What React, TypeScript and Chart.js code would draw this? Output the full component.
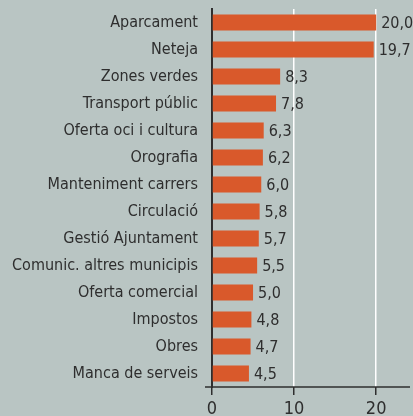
import React, { useEffect, useRef } from 'react';
import { Chart, registerables } from 'chart.js';

Chart.register(...registerables);

const categories = [
  'Aparcament',
  'Neteja',
  'Zones verdes',
  'Transport públic',
  'Oferta oci i cultura',
  'Orografia',
  'Manteniment carrers',
  'Circulació',
  'Gestió Ajuntament',
  'Comunic. altres municipis',
  'Oferta comercial',
  'Impostos',
  'Obres',
  'Manca de serveis',
];
const values = [20.0, 19.7, 8.3, 7.8, 6.3, 6.2, 6.0, 5.8, 5.7, 5.5, 5.0, 4.8, 4.7, 4.5];
const xTicks = [0, 10, 20];

const BG = '#b9c5c3';
const BAR = '#d9592b';
const TEXT = '#2e2e2e';
const FONT = "'DejaVu Sans Condensed', 'DejaVu Sans', sans-serif";

const valueLabels = {
  id: 'valueLabels',
  afterDatasetsDraw(chart: any) {
    const ctx = chart.ctx;
    const meta = chart.getDatasetMeta(0);
    ctx.save();
    ctx.font = `16px ${FONT}`;
    ctx.fillStyle = TEXT;
    ctx.textAlign = 'left';
    ctx.textBaseline = 'middle';
    meta.data.forEach((bar: any, i: number) => {
      const v = chart.data.datasets[0].data[i] as number;
      ctx.fillText(v.toFixed(1).replace('.', ','), bar.x + 5, bar.y + 1);
    });
    ctx.restore();
  },
  afterDraw(chart: any) {
    const ctx = chart.ctx;
    const { left, right, bottom } = chart.chartArea;
    ctx.save();
    ctx.strokeStyle = TEXT;
    ctx.lineWidth = 1.5;
    ctx.beginPath();
    ctx.moveTo(left - 7, bottom);
    ctx.lineTo(right + 1, bottom);
    ctx.stroke();
    ctx.restore();
  },
};

export default function App() {
  const ref = useRef<HTMLCanvasElement | null>(null);

  useEffect(() => {
    document.body.style.margin = '0';
    document.body.style.background = BG;
    if (!ref.current) return;
    const chart = new Chart(ref.current, {
      type: 'bar',
      data: {
        labels: categories,
        datasets: [
          {
            data: values,
            backgroundColor: BAR,
            barPercentage: 0.59,
            categoryPercentage: 1,
          },
        ],
      },
      options: {
        indexAxis: 'y',
        responsive: false,
        animation: false,
        layout: { padding: { top: 9, right: 4, left: 0, bottom: 0 } },
        plugins: {
          legend: { display: false },
          tooltip: { enabled: false },
        },
        scales: {
          x: {
            type: 'linear',
            min: 0,
            max: 24,
            position: 'bottom',
            afterBuildTicks: (scale: any) => {
              scale.ticks = xTicks.map((v) => ({ value: v }));
            },
            afterFit: (scale: any) => {
              scale.height = 29;
              scale.paddingLeft = 0;
              scale.paddingRight = 0;
            },
            grid: {
              color: (c: any) => (c.tick && c.tick.value === 0 ? 'rgba(0,0,0,0)' : '#ffffff'),
              lineWidth: 1.5,
              tickColor: TEXT,
              tickLength: 8,
              drawOnChartArea: true,
            },
            border: { display: false },
            ticks: {
              color: TEXT,
              font: { family: FONT, size: 18 },
              padding: 4,
              maxRotation: 0,
              autoSkip: false,
            },
          },
          y: {
            type: 'category',
            afterFit: (scale: any) => {
              scale.width = 212;
              scale.paddingTop = 0;
              scale.paddingBottom = 0;
            },
            grid: { display: false, drawTicks: false },
            border: { display: true, color: TEXT, width: 2 },
            ticks: {
              color: TEXT,
              font: { family: FONT, size: 16 },
              padding: 14,
              autoSkip: false,
            },
          },
        },
      },
      plugins: [valueLabels],
    });
    return () => chart.destroy();
  }, []);

  return (
    <div style={{ width: 413, height: 416, background: BG }}>
      <canvas ref={ref} width={413} height={416} style={{ display: 'block' }} />
    </div>
  );
}
